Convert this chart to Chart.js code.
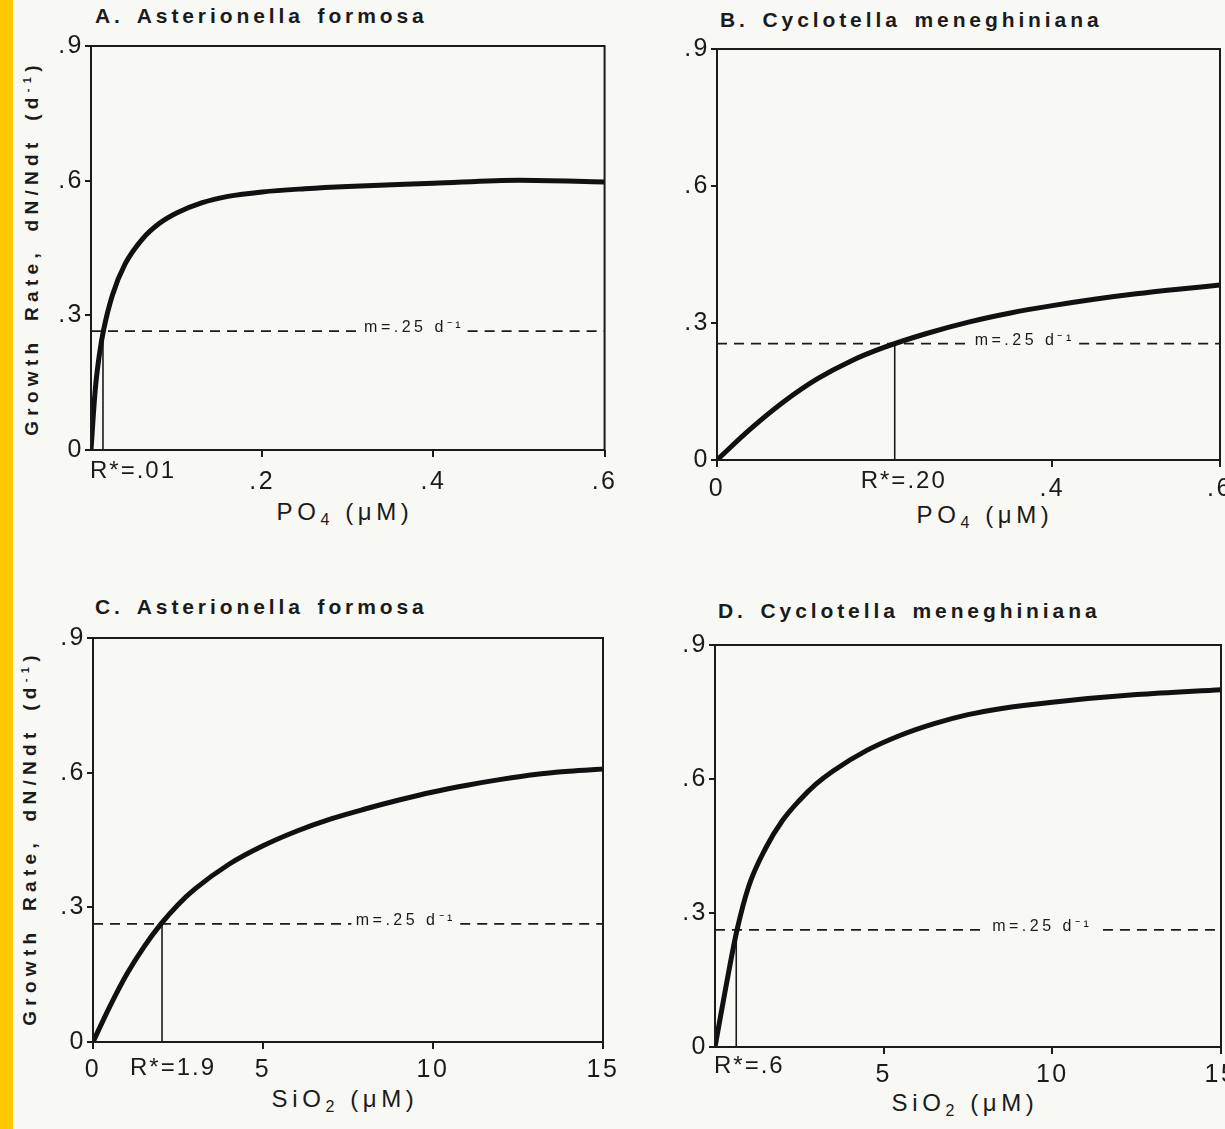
<!DOCTYPE html>
<html>
<head>
<meta charset="utf-8">
<script src="https://cdn.jsdelivr.net/npm/chart.js@4.4.1/dist/chart.umd.min.js"></script>
<style>
  html, body { margin: 0; padding: 0; }
  body {
    width: 1225px; height: 1129px; overflow: hidden; position: relative;
    background: #f8f8f5; color: #1b1b1b;
    font-family: "Liberation Sans", Arial, sans-serif;
  }
  .strip { position: absolute; left: 0; top: 0; width: 13px; height: 1129px; background: #ffc800; }
  canvas { position: absolute; }
  .title { position: absolute; font-weight: bold; font-size: 21px; line-height: 24px; letter-spacing: 3.9px; word-spacing: 4px; white-space: nowrap; }
  .ytitle { position: absolute; font-weight: bold; font-size: 19px; letter-spacing: 5.3px; word-spacing: 6px; white-space: nowrap; transform: translate(-50%, -50%) rotate(-90deg); }
  .xtitle { position: absolute; font-size: 24px; letter-spacing: 4.6px; white-space: nowrap; transform: translate(-50%, -50%); }
  .xtitle sub { font-size: 16px; vertical-align: -5px; }
</style>
</head>
<body>
<div class="strip"></div>

<div class="title" style="left:95px;top:4px">A. Asterionella formosa</div>
<div class="title" style="left:720px;top:8px">B. Cyclotella meneghiniana</div>
<div class="title" style="left:95px;top:595px">C. Asterionella formosa</div>
<div class="title" style="left:718px;top:599px">D. Cyclotella meneghiniana</div>

<div class="ytitle" style="left:32px;top:248px">Growth Rate, dN/Ndt (d<sup style="font-size:11px">-1</sup>)</div>
<div class="ytitle" style="left:30px;top:838px">Growth Rate, dN/Ndt (d<sup style="font-size:11px">-1</sup>)</div>

<div class="xtitle" style="left:345px;top:513px">PO<sub>4</sub> (μM)</div>
<div class="xtitle" style="left:985px;top:516px">PO<sub>4</sub> (μM)</div>
<div class="xtitle" style="left:345px;top:1100px">SiO<sub>2</sub> (μM)</div>
<div class="xtitle" style="left:965px;top:1104px">SiO<sub>2</sub> (μM)</div>

<script>
// growth curves
const aPO4  = [0, 0.005, 0.01, 0.015, 0.025, 0.04, 0.06, 0.08, 0.1, 0.13, 0.16, 0.2, 0.25, 0.3, 0.4, 0.5, 0.6];
const aRate = [0, 0.135, 0.215, 0.27, 0.345, 0.415, 0.47, 0.505, 0.528, 0.551, 0.565, 0.575, 0.582, 0.587, 0.594, 0.601, 0.597];

const bPO4  = [0, 0.04, 0.08, 0.12, 0.16, 0.2, 0.25, 0.3, 0.35, 0.4, 0.45, 0.5, 0.55, 0.6];
const bRate = [0, 0.068, 0.128, 0.178, 0.217, 0.247, 0.277, 0.302, 0.322, 0.338, 0.352, 0.364, 0.374, 0.383];

const cSiO2 = [0, 0.5, 1, 1.5, 2, 2.5, 3, 4, 5, 6, 7, 8, 9, 10, 11, 12, 13, 14, 15];
const cRate = [0, 0.08, 0.152, 0.212, 0.263, 0.306, 0.341, 0.396, 0.437, 0.470, 0.497, 0.519, 0.539, 0.557, 0.572, 0.585, 0.596, 0.603, 0.608];

const dSiO2 = [0, 0.3, 0.65, 1.0, 1.5, 2.0, 2.5, 3.0, 3.5, 4.5, 5.5, 6.5, 7.5, 8.5, 10, 12.5, 15];
const dRate = [0, 0.125, 0.261, 0.36, 0.445, 0.507, 0.552, 0.589, 0.618, 0.664, 0.698, 0.724, 0.744, 0.758, 0.772, 0.789, 0.800];

// mortality line (m = .25 per day) and R* for each panel A..D
const mRates      = [0.265, 0.255, 0.263, 0.262];
const mLabel      = 'm=.25 d⁻¹';
const mLabelSpan  = [[0.315, 0.44], [0.302, 0.432], [7.6, 10.8], [7.9, 11.5]];
const rStar       = [0.014, 0.212, 2.03, 0.63];
const rStarLabels = ['R*=.01', 'R*=.20', 'R*=1.9', 'R*=.6'];

// ticks
const yTicks      = [0, 0.3, 0.6, 0.9];
const yTickLabels = ['0', '.3', '.6', '.9'];
const aTicks = [0.2, 0.4, 0.6], aTickLabels = ['.2', '.4', '.6'];
const bTicks = [0, 0.4, 0.6],   bTickLabels = ['0', '.4', '.6'];
const cTicks = [0, 5, 10, 15],  cTickLabels = ['0', '5', '10', '15'];
const dTicks = [5, 10, 15],     dTickLabels = ['5', '10', '15'];

const ink = '#1b1b1b';
const FONT = '"Liberation Sans", Arial, sans-serif';

// plot boxes in page pixels: left, top, right, bottom
const panels = [
  { box: [91, 44, 605, 450],     xmax: 0.6, xs: aPO4,  ys: aRate, ticks: aTicks, tickLabels: aTickLabels, rAlign: 'left',   rShift: 0,  rDy: 21, xPad: 10 },
  { box: [717, 47, 1220, 460],   xmax: 0.6, xs: bPO4,  ys: bRate, ticks: bTicks, tickLabels: bTickLabels, rAlign: 'center', rShift: 9,  rDy: 21, xPad: 7 },
  { box: [93, 636, 603, 1042],   xmax: 15,  xs: cSiO2, ys: cRate, ticks: cTicks, tickLabels: cTickLabels, rAlign: 'center', rShift: 11, rDy: 26, xPad: 6 },
  { box: [715, 643, 1221, 1047], xmax: 15,  xs: dSiO2, ys: dRate, ticks: dTicks, tickLabels: dTickLabels, rAlign: 'left',   rShift: 0,  rDy: 19, xPad: 6 }
];

const extras = {
  id: 'extras',
  beforeDraw(chart) { chart.ctx.letterSpacing = '2.5px'; },
  afterDatasetsDraw(chart, args, o) {
    const { ctx, chartArea: a, scales: { x, y } } = chart;
    ctx.save();
    ctx.strokeStyle = ink;
    ctx.lineWidth = 2;
    ctx.strokeRect(a.left, a.top, a.right - a.left, a.bottom - a.top);

    ctx.fillStyle = ink;
    ctx.textBaseline = 'middle';
    ctx.textAlign = 'center';
    ctx.font = '16px ' + FONT;
    ctx.letterSpacing = '3.5px';
    ctx.fillText(o.mText, x.getPixelForValue((o.span[0] + o.span[1]) / 2), y.getPixelForValue(o.m) - 3);

    ctx.font = '24px ' + FONT;
    ctx.letterSpacing = '2px';
    ctx.textAlign = o.rAlign;
    const rx = o.rAlign === 'left' ? a.left - 1 : x.getPixelForValue(o.r) + o.rShift;
    ctx.fillText(o.rText, rx, a.bottom + o.rDy);
    ctx.restore();
  }
};

const yw = 60, pt = 14, pr = 20, xh = 70;

panels.forEach((p, i) => {
  const [L, T, R, B] = p.box;
  const cv = document.createElement('canvas');
  cv.width = (R - L) + yw + pr;
  cv.height = (B - T) + pt + xh;
  cv.style.left = (L - yw) + 'px';
  cv.style.top = (T - pt) + 'px';
  document.body.appendChild(cv);

  const m = mRates[i], span = mLabelSpan[i], r = rStar[i];

  new Chart(cv, {
    type: 'line',
    data: {
      datasets: [
        {
          data: p.xs.map((x, k) => ({ x, y: p.ys[k] })),
          borderColor: '#111', borderWidth: 5, pointRadius: 0,
          cubicInterpolationMode: 'monotone', borderCapStyle: 'round'
        },
        {
          data: [{ x: 0, y: m }, { x: span[0], y: m }, { x: span[0], y: null }, { x: span[1], y: m }, { x: p.xmax, y: m }],
          borderColor: ink, borderWidth: 1.8, borderDash: [10, 7], pointRadius: 0, spanGaps: false
        },
        {
          data: [{ x: r, y: 0 }, { x: r, y: m }],
          borderColor: ink, borderWidth: 1.6, pointRadius: 0
        }
      ]
    },
    options: {
      responsive: false,
      animation: false,
      devicePixelRatio: 1,
      layout: { padding: { top: pt, right: pr, left: 0, bottom: 0 } },
      plugins: {
        legend: { display: false },
        tooltip: { enabled: false },
        extras: { m, span, r, mText: mLabel, rText: rStarLabels[i], rAlign: p.rAlign, rShift: p.rShift, rDy: p.rDy }
      },
      scales: {
        x: {
          type: 'linear', min: 0, max: p.xmax,
          afterBuildTicks: s => { s.ticks = p.ticks.map(v => ({ value: v })); },
          afterFit: s => { s.height = xh; },
          grid: { drawOnChartArea: false, drawTicks: true, tickLength: 7, color: ink, lineWidth: 2 },
          border: { display: false },
          ticks: {
            color: ink, padding: p.xPad, maxRotation: 0, autoSkip: false,
            font: { family: FONT, size: 25 },
            callback: (v) => p.tickLabels[p.ticks.indexOf(v)]
          }
        },
        y: {
          min: 0, max: 0.9,
          afterBuildTicks: s => { s.ticks = yTicks.map(v => ({ value: v })); },
          afterFit: s => { s.width = yw; },
          grid: { drawOnChartArea: false, drawTicks: true, tickLength: 6, color: ink, lineWidth: 2 },
          border: { display: false },
          ticks: {
            color: ink, padding: 1,
            font: { family: FONT, size: 25 },
            callback: (v) => yTickLabels[yTicks.indexOf(v)]
          }
        }
      }
    },
    plugins: [extras]
  });
});
</script>
</body>
</html>
